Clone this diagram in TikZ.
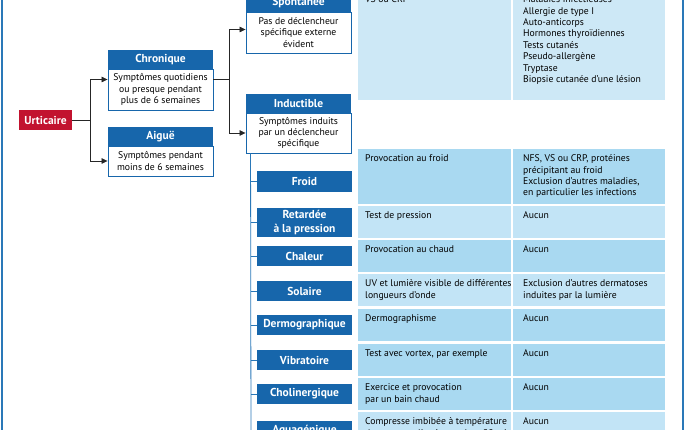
\documentclass[tikz,border=0pt]{standalone}
\usepackage{fontspec}
\setmainfont{PT Sans}
\usetikzlibrary{arrows.meta}
\definecolor{hblue}{HTML}{1766AB}
\definecolor{rowdark}{HTML}{A9D9F1}
\definecolor{rowlight}{HTML}{C2E4F6}
\definecolor{rowtop}{HTML}{CDE8F6}
\definecolor{ured}{HTML}{C2132F}
\definecolor{lblue}{HTML}{2A78B8}
\begin{document}
\begin{tikzpicture}[x=1pt,y=-1pt,
  hdr/.style={fill=hblue, text=white, font=\fontsize{11.5}{13}\selectfont\bfseries, minimum width=105pt, minimum height=19pt, inner sep=0pt},
  bodyb/.style={draw=hblue, line width=0.9pt, fill=white, font=\fontsize{9.7}{11.4}\selectfont, align=center, minimum width=105pt, inner sep=0pt},
  child/.style={fill=hblue, text=white, font=\fontsize{11.5}{13.3}\selectfont\bfseries, minimum width=95pt, inner sep=0pt, align=center},
  cell/.style={inner sep=0pt, anchor=north west},
  c1/.style={cell, minimum width=153pt},
  c2/.style={cell, minimum width=152pt},
  ctext/.style={inner sep=0pt, anchor=north west, align=left, font=\fontsize{9.7}{11.4}\selectfont},
  conn/.style={draw=black!85, line width=0.7pt},
  arr/.style={conn, -{Triangle[length=6pt,width=5.5pt]}},
  bl/.style={draw=lblue, line width=0.8pt},
  frame/.style={draw=lblue, line width=1.1pt}
]
\useasboundingbox (0,0) rectangle (686,430);
\clip (0,0) rectangle (686,430);

% frame
\draw[frame] (2,-20) rectangle (683,450);

% ---------- table cells ----------
\node[c1, fill=rowtop, minimum height=120pt] (sp1) at (358,-20) {};
\node[c2, fill=rowtop, minimum height=120pt] (sp2) at (513,-20) {};
\node[c1, fill=rowdark, minimum height=55pt] (fr1) at (358,149) {};
\node[c2, fill=rowdark, minimum height=55pt] (fr2) at (513,149) {};
\node[c1, fill=rowlight, minimum height=32pt] (re1) at (358,206) {};
\node[c2, fill=rowlight, minimum height=32pt] (re2) at (513,206) {};
\node[c1, fill=rowdark, minimum height=32pt] (ch1) at (358,240) {};
\node[c2, fill=rowdark, minimum height=32pt] (ch2) at (513,240) {};
\node[c1, fill=rowlight, minimum height=32pt] (so1) at (358,274) {};
\node[c2, fill=rowlight, minimum height=32pt] (so2) at (513,274) {};
\node[c1, fill=rowdark, minimum height=32pt] (de1) at (358,309) {};
\node[c2, fill=rowdark, minimum height=32pt] (de2) at (513,309) {};
\node[c1, fill=rowdark, minimum height=32pt] (vi1) at (358,344) {};
\node[c2, fill=rowdark, minimum height=32pt] (vi2) at (513,344) {};
\node[c1, fill=rowdark, minimum height=32pt] (co1) at (358,378) {};
\node[c2, fill=rowdark, minimum height=32pt] (co2) at (513,378) {};
\node[c1, fill=rowlight, minimum height=40pt] (aq1) at (358,412) {};
\node[c2, fill=rowlight, minimum height=40pt] (aq2) at (513,412) {};

% ---------- table texts ----------
\node[ctext] (tsp1) at ([xshift=7pt,yshift=-14.5pt]sp1.north west) {\strut VS ou CRP};
\node[ctext] (tsp2) at ([xshift=10pt,yshift=-14.5pt]sp2.north west) {\strut Maladies infectieuses\\Allergie de type I\\Auto-anticorps\\Hormones thyroïdiennes\\Tests cutanés\\Pseudo-allergène\\Tryptase\\Biopsie cutanée d’une lésion};
\node[ctext] (tfr1) at ([xshift=7pt,yshift=-4.5pt]fr1.north west) {\strut Provocation au froid};
\node[ctext] (tfr2) at ([xshift=10pt,yshift=-4.5pt]fr2.north west) {\strut NFS, VS ou CRP, protéines\\précipitant au froid\\Exclusion d’autres maladies,\\en particulier les infections};
\node[ctext] (tre1) at ([xshift=7pt,yshift=-4.5pt]re1.north west) {\strut Test de pression};
\node[ctext] (tre2) at ([xshift=10pt,yshift=-4.5pt]re2.north west) {\strut Aucun};
\node[ctext] (tch1) at ([xshift=7pt,yshift=-4.5pt]ch1.north west) {\strut Provocation au chaud};
\node[ctext] (tch2) at ([xshift=10pt,yshift=-4.5pt]ch2.north west) {\strut Aucun};
\node[ctext] (tso1) at ([xshift=7pt,yshift=-4.5pt]so1.north west) {\strut UV et lumière visible de différentes\\longueurs d’onde};
\node[ctext] (tso2) at ([xshift=10pt,yshift=-4.5pt]so2.north west) {\strut Exclusion d’autres dermatoses\\induites par la lumière};
\node[ctext] (tde1) at ([xshift=7pt,yshift=-4.5pt]de1.north west) {\strut Dermographisme};
\node[ctext] (tde2) at ([xshift=10pt,yshift=-4.5pt]de2.north west) {\strut Aucun};
\node[ctext] (tvi1) at ([xshift=7pt,yshift=-4.5pt]vi1.north west) {\strut Test avec vortex, par exemple};
\node[ctext] (tvi2) at ([xshift=10pt,yshift=-4.5pt]vi2.north west) {\strut Aucun};
\node[ctext] (tco1) at ([xshift=7pt,yshift=-4.5pt]co1.north west) {\strut Exercice et provocation\\par un bain chaud};
\node[ctext] (tco2) at ([xshift=10pt,yshift=-4.5pt]co2.north west) {\strut Aucun};
\node[ctext] (taq1) at ([xshift=7pt,yshift=-4.5pt]aq1.north west) {\strut Compresse imbibée à température\\du corps appliquée pendant 20 min};
\node[ctext] (taq2) at ([xshift=10pt,yshift=-4.5pt]aq2.north west) {\strut Aucun};

% ---------- left tree ----------
\node[fill=ured, text=white, font=\fontsize{11.5}{13}\selectfont\bfseries, minimum width=53pt, minimum height=20pt, inner sep=0pt] (urt) at (45.5,120) {Urticaire};

\node[bodyb, minimum height=41pt] (chrB) at (160.5,89.5) {Symptômes quotidiens\\ou presque pendant\\plus de 6 semaines};
\node[hdr] (chrH) at (160.5,59.5) {Chronique};
\node[bodyb, minimum height=30pt] (aigB) at (160.5,161) {Symptômes pendant\\moins de 6 semaines};
\node[hdr] (aigH) at (160.5,136.5) {Aiguë};

\node[bodyb, minimum height=41pt] (spB) at (298.5,32.5) {Pas de déclencheur\\spécifique externe\\évident};
\node[hdr] (spH) at (298.5,2.5) {Spontanée};
\node[bodyb, minimum height=40pt] (indB) at (298.5,133) {Symptômes induits\\par un déclencheur\\spécifique};
\node[hdr] (indH) at (298.5,103.5) {Inductible};

\coordinate (j1) at (90,120);
\coordinate (j2) at (229,79.5);
\draw[conn] (urt.east) -- (j1);
\draw[arr] (j1) |- ([yshift=10pt]chrB.west);
\draw[arr] (j1) |- (aigB.west);
\draw[conn] ([yshift=10pt]chrB.east) -- (j2);
\draw[arr] (j2) |- ([yshift=3pt]spB.west);
\draw[arr] (j2) |- (indB.west);

% ---------- inducible children ----------
\node[child, minimum height=21pt] (froid) at (304.5,181.5) {Froid};
\node[child, minimum height=29pt] (ret) at (304.5,222.5) {Retardée\\à la pression};
\node[child, minimum height=20pt] (chal) at (304.5,256) {Chaleur};
\node[child, minimum height=20pt] (sol) at (304.5,291) {Solaire};
\node[child, minimum height=20pt] (derm) at (304.5,325) {Dermographique};
\node[child, minimum height=20pt] (vib) at (304.5,360) {Vibratoire};
\node[child, minimum height=20pt] (chol) at (304.5,394) {Cholinergique};
\node[child, minimum height=20pt] (aqua) at (304.5,431) {Aquagénique};

\coordinate (vtop) at ([xshift=5pt]indB.south west);
\coordinate (vend) at (251,445);
\draw[bl] (vtop) -- (vend);
\foreach \n in {froid,ret,chal,sol,derm,vib,chol,aqua}
  \draw[bl] (\n.west) -- ++(-6,0);
\end{tikzpicture}
\end{document}
